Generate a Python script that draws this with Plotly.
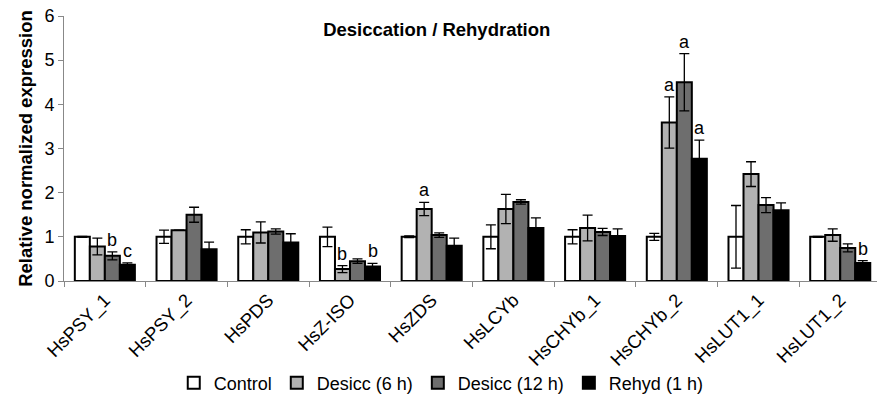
import plotly.graph_objects as go

genes = ["HsPSY_1", "HsPSY_2", "HsPDS", "HsZ-ISO", "HsZDS", "HsLCYb",
         "HsCHYb_1", "HsCHYb_2", "HsLUT1_1", "HsLUT1_2"]

series_names = ["Control", "Desicc (6 h)", "Desicc (12 h)", "Rehyd (1 h)"]

control = [1.00, 1.00, 1.00, 1.00, 1.00, 1.00, 1.00, 1.00, 1.00, 1.00]
control_err = [0.01, 0.15, 0.16, 0.22, 0.02, 0.27, 0.16, 0.08, 0.71, 0.01]

desicc6 = [0.78, 1.15, 1.10, 0.27, 1.63, 1.63, 1.20, 3.59, 2.42, 1.04]
desicc6_err = [0.19, 0.00, 0.24, 0.08, 0.15, 0.33, 0.29, 0.58, 0.28, 0.14]

desicc12 = [0.57, 1.50, 1.12, 0.45, 1.04, 1.79, 1.11, 4.50, 1.72, 0.75]
desicc12_err = [0.09, 0.17, 0.06, 0.05, 0.05, 0.05, 0.08, 0.65, 0.17, 0.09]

rehyd = [0.37, 0.72, 0.87, 0.33, 0.80, 1.20, 1.02, 2.77, 1.60, 0.41]
rehyd_err = [0.04, 0.16, 0.20, 0.07, 0.17, 0.23, 0.16, 0.42, 0.17, 0.05]

# significance letters: (gene index, series index, letter)
letters = [(0, 2, "b"), (0, 3, "c"), (3, 1, "b"), (3, 3, "b"), (4, 1, "a"),
           (7, 1, "a"), (7, 2, "a"), (7, 3, "a"), (9, 3, "b")]

values = [control, desicc6, desicc12, rehyd]
errors = [control_err, desicc6_err, desicc12_err, rehyd_err]
colors = ["#ffffff", "#b2b2b2", "#6e6e6e", "#000000"]

FONT = "Liberation Sans, Arial, sans-serif"
BARGAP = 0.265

fig = go.Figure()
for name, v, e, c in zip(series_names, values, errors, colors):
    fig.add_trace(go.Bar(
        x=genes, y=v, name=name,
        marker=dict(color=c, line=dict(color="#000000", width=2)),
        error_y=dict(type="data", array=e, visible=True, color="#000000",
                     thickness=1.3, width=5),
    ))

barw = (1 - BARGAP) / len(series_names)
for gi, si, txt in letters:
    xpos = gi + (si - (len(series_names) - 1) / 2) * barw
    ytop = values[si][gi] + errors[si][gi]
    fig.add_annotation(x=xpos, y=ytop, text=txt, showarrow=False,
                       xref="x", yref="y", yanchor="bottom", yshift=0,
                       font=dict(family=FONT, size=18, color="#000000"))

fig.update_layout(
    width=877, height=402,
    margin=dict(l=64, r=0, t=16, b=118),
    paper_bgcolor="#ffffff", plot_bgcolor="#ffffff",
    barmode="group", bargap=BARGAP, bargroupgap=0,
    font=dict(family=FONT, size=18, color="#000000"),
    title=dict(text="<b>Desiccation / Rehydration</b>", x=0.498, xanchor="center",
               y=1 - 30 / 402, yanchor="middle", yref="container",
               font=dict(family=FONT, size=18.5, color="#000000")),
    showlegend=True,
    legend=dict(orientation="h", x=0.135, xanchor="left", y=-0.385, yanchor="middle",
                font=dict(family=FONT, size=18, color="#000000"),
                itemwidth=30, traceorder="normal", bgcolor="rgba(0,0,0,0)"),
    xaxis=dict(type="category", range=[-0.5, 9.45], showline=True,
               linecolor="#888888", linewidth=1, ticks="outside", ticklen=5,
               tickcolor="#888888", tickson="boundaries", tickangle=-45,
               tickfont=dict(family=FONT, size=18.5, color="#000000"),
               showgrid=False, zeroline=False, automargin=False),
    yaxis=dict(range=[0, 6], dtick=1, showline=True, linecolor="#888888",
               linewidth=1, ticks="outside", ticklen=5, tickcolor="#888888",
               tickfont=dict(family=FONT, size=18, color="#000000"),
               showgrid=False, zeroline=False, automargin=False,
               title=dict(text="<b>Relative normalized expression</b>",
                          font=dict(family=FONT, size=18.5, color="#000000"),
                          standoff=6)),
)

fig.write_html("out.html")
